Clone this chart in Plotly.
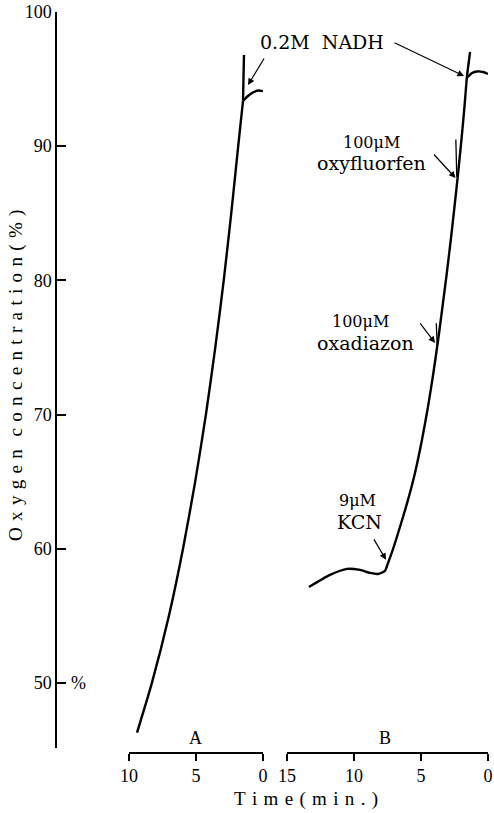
import plotly.graph_objects as go

# ---- data ----
a_time = [9.40, 8.29, 7.02, 5.97, 5.06, 4.26, 3.56, 2.93, 2.37, 1.85, 1.49]
a_o2 = [46.3, 50.0, 55.0, 60.0, 65.0, 70.0, 75.0, 80.0, 85.0, 90.0, 93.4]
a_spike_time = [1.49, 1.42]
a_spike_o2 = [93.4, 96.8]
a_hook_time = [1.47, 1.12, 0.82, 0.37, 0.0]
a_hook_o2 = [93.4, 93.74, 93.96, 94.15, 94.1]

b_time = [13.36, 11.79, 10.52, 9.55, 8.81, 8.21, 7.69, 7.46, 7.16, 6.57, 5.97, 5.45, 4.93,
          4.48, 4.09, 3.73, 3.40, 3.08, 2.78, 2.50, 2.23, 1.98, 1.75, 1.57]
b_o2 = [57.15, 58.05, 58.50, 58.42, 58.20, 58.12, 58.35, 58.94, 59.76, 61.62, 63.64, 65.65, 68.11,
        70.57, 73.0, 75.5, 78.0, 80.5, 83.0, 85.5, 88.0, 90.5, 93.0, 95.23]
b_spike_time = [1.57, 1.34]
b_spike_o2 = [95.23, 97.02]
b_hook_time = [1.57, 1.19, 0.82, 0.37, 0.0]
b_hook_o2 = [95.1, 95.45, 95.57, 95.53, 95.38]

oxyf_mark_time = [2.40, 2.33]
oxyf_mark_o2 = [90.5, 87.7]
oxad_mark_time = [3.86, 3.78]
oxad_mark_o2 = [76.8, 74.8]

a_ticks = [10, 5, 0]
b_ticks = [15, 10, 5, 0]
y_ticks = [50, 60, 70, 80, 90, 100]

W, H = 494, 813
ML, MR, MT, MB = 56, 6, 12, 60
PW, PH = W - ML - MR, H - MT - MB

SERIF = "Liberation Serif"
TICKFONT = dict(family=SERIF, size=18, color="black")
ANNFONT = "DejaVu Serif"
SP = "\u2004"


def spaced(s):
    return SP.join(list(s))


def px(xp, yp):
    return (xp - ML) / PW, (H - MB - yp) / PH


fig = go.Figure()


def add(x, y, ax, shape="spline", width=2.4):
    fig.add_trace(go.Scatter(x=x, y=y, xaxis=ax, yaxis="y", mode="lines",
                             line=dict(color="black", width=width, shape=shape,
                                       smoothing=0.6 if shape == "spline" else None),
                             showlegend=False, hoverinfo="skip"))


add(a_time, a_o2, "x")
add(a_spike_time, a_spike_o2, "x", shape="linear")
add(a_hook_time, a_hook_o2, "x")
add(b_time, b_o2, "x2")
add(b_spike_time, b_spike_o2, "x2", shape="linear")
add(b_hook_time, b_hook_o2, "x2")
add(oxyf_mark_time, oxyf_mark_o2, "x2", shape="linear", width=1.3)
add(oxad_mark_time, oxad_mark_o2, "x2", shape="linear", width=1.3)

axis_common = dict(showgrid=False, zeroline=False, showline=True, linecolor="black",
                   linewidth=1.5, ticks="outside", ticklen=7, tickwidth=1.5,
                   tickcolor="black", tickfont=TICKFONT, anchor="free", position=0,
                   automargin=False)

fig.update_layout(
    width=W, height=H,
    margin=dict(l=ML, r=MR, t=MT, b=MB, autoexpand=False),
    paper_bgcolor="white", plot_bgcolor="white",
    xaxis=dict(domain=[(129 - ML) / PW, (263 - ML) / PW], range=[10, 0],
               tickvals=a_ticks, ticktext=[str(t) for t in a_ticks], **axis_common),
    xaxis2=dict(domain=[(287 - ML) / PW, 1.0], range=[15, 0],
                tickvals=b_ticks, ticktext=[str(t) for t in b_ticks], **axis_common),
    yaxis=dict(domain=[5 / PH, 1.0], range=[45.15, 100], tickvals=y_ticks,
               showgrid=False, zeroline=False, showline=True, linecolor="black",
               linewidth=1.5, ticks="inside", ticklen=9, tickwidth=1.5, tickcolor="black",
               tickfont=TICKFONT, anchor="free", position=0, automargin=False),
)

labels = [
    ("0.2M\u00a0\u00a0NADH", 322, 42, 19),
    ("100\u03bcM", 371, 142, 16),
    ("oxyfluorfen", 371, 163, 19),
    ("100\u03bcM", 360, 322, 16),
    ("oxadiazon", 365, 343, 19),
    ("9\u03bcM", 357, 500, 16),
    ("KCN", 359, 522, 19),
]
for t, xp, yp, s in labels:
    xx, yy = px(xp, yp)
    fig.add_annotation(x=xx, y=yy, xref="paper", yref="paper", text=t, showarrow=False,
                       font=dict(family=ANNFONT, size=s, color="black"),
                       xanchor="center", yanchor="middle")

for t, xp, yp in [("A", 195, 738), ("B", 385, 738), ("%", 78, 683)]:
    xx, yy = px(xp, yp)
    fig.add_annotation(x=xx, y=yy, xref="paper", yref="paper", text=t, showarrow=False,
                       font=dict(family=SERIF, size=18, color="black"),
                       xanchor="center", yanchor="middle")

xx, yy = px(306, 799)
fig.add_annotation(x=xx, y=yy, xref="paper", yref="paper", text=spaced("Time(min.)"),
                   showarrow=False, font=dict(family=SERIF, size=19, color="black"),
                   xanchor="center", yanchor="middle")
xx, yy = px(16, 376)
fig.add_annotation(x=xx, y=yy, xref="paper", yref="paper",
                   text=spaced("Oxygen") + SP + SP + spaced("concentration(%)"),
                   showarrow=False, textangle=-90,
                   font=dict(family=SERIF, size=19, color="black"),
                   xanchor="center", yanchor="middle")

arrows = [
    (1.12, 94.56, "x", 17, -28),
    (1.79, 95.23, "x2", -71, -34),
    (2.42, 87.63, "x2", -23, -25),
    (3.95, 75.34, "x2", -16, -21),
    (7.61, 59.17, "x2", -13, -22),
]
for x, y, axr, dx, dy in arrows:
    fig.add_annotation(x=x, y=y, xref=axr, yref="y", ax=dx, ay=dy, text="",
                       showarrow=True, arrowhead=2, arrowsize=1.1, arrowwidth=1.2,
                       arrowcolor="black", standoff=0)

fig.write_html("out.html", config={"displayModeBar": False},
               post_script="document.body.style.margin='0';document.body.style.padding='0';")
